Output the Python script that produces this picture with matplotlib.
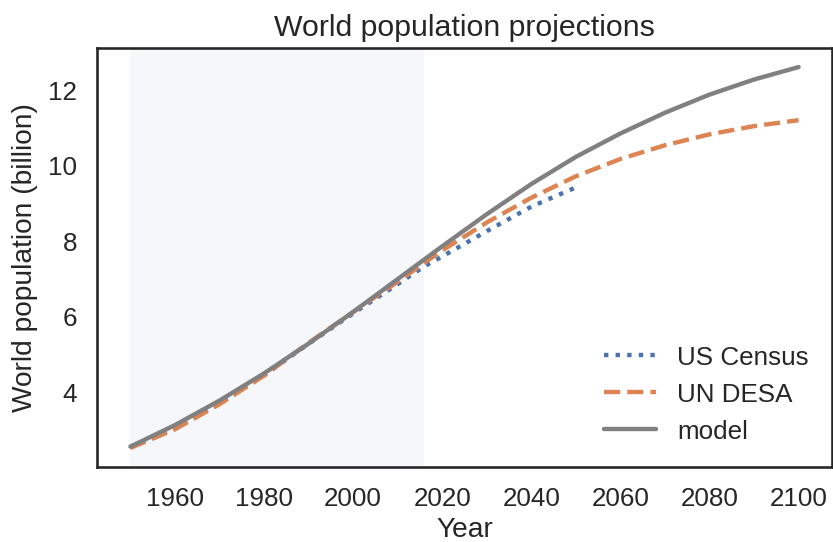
import matplotlib
matplotlib.use("Agg")
import matplotlib.pyplot as plt
import seaborn as sns

sns.set_style("white")
plt.rcParams["font.family"] = ["Liberation Sans", "DejaVu Sans"]

# US Census estimates and projections (billions)
census_years = [1950, 1960, 1970, 1980, 1990, 2000, 2010, 2016, 2020, 2030, 2040, 2050]
census = [2.558, 3.043, 3.712, 4.451, 5.288, 6.090, 6.866, 7.340, 7.600, 8.270, 8.920, 9.430]

# UN DESA estimates and projections (billions)
un_years = [1950, 1960, 1970, 1980, 1990, 2000, 2010, 2016, 2020, 2030,
            2040, 2050, 2060, 2070, 2080, 2090, 2100]
un = [2.525, 3.018, 3.682, 4.440, 5.310, 6.127, 6.930, 7.432, 7.758, 8.501,
      9.157, 9.725, 10.184, 10.548, 10.837, 11.055, 11.213]

# model run
model_years = [1950, 1960, 1970, 1980, 1990, 2000, 2010, 2020,
               2030, 2040, 2050, 2060, 2070, 2080, 2090, 2100]
model = [2.56, 3.13, 3.78, 4.50, 5.29, 6.13, 7.00, 7.87,
         8.72, 9.52, 10.24, 10.86, 11.41, 11.89, 12.29, 12.62]

# range of the historical data
data_start, data_end = 1950, 2016

fig = plt.figure(figsize=(833 / 150, 542 / 150), dpi=150)
ax = fig.add_axes([0.1164, 0.1384, 0.8824, 0.773])

ax.axvspan(data_start, data_end, color="#4C72B0", alpha=0.05, lw=0)

ax.plot(census_years, census, ":", color="#4C72B0", lw=2.1, label="US Census")
ax.plot(un_years, un, "--", color="#DD8452", lw=2.1, label="UN DESA")
ax.plot(model_years, model, "-", color="gray", lw=2.1, label="model")

ax.set_xlabel("Year", fontsize=13.5, labelpad=3)
ax.set_ylabel("World population (billion)", fontsize=13.5, labelpad=5)
ax.set_title("World population projections", fontsize=14.5, pad=6)
ax.tick_params(labelsize=12.5, pad=6)
ax.set_xticks([1960, 1980, 2000, 2020, 2040, 2060, 2080, 2100])
ax.set_yticks([4, 6, 8, 10, 12])
ax.legend(loc="lower right", frameon=False, fontsize=12.5)

for s in ax.spines.values():
    s.set_color(".15")
    s.set_linewidth(1.25)

fig.savefig("out.png", dpi=150)
